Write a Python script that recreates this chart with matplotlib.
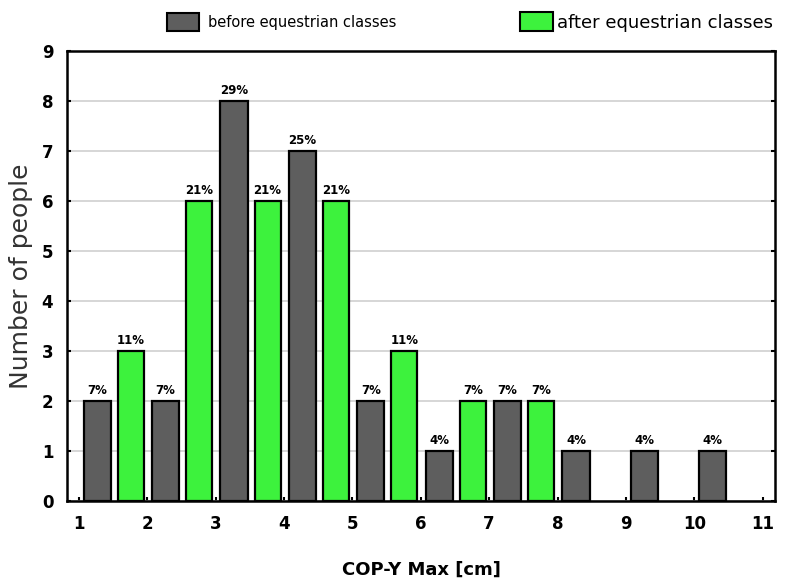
import matplotlib
matplotlib.use("Agg")
import matplotlib.pyplot as plt
from matplotlib.patches import Patch
import numpy as np

#%% Data
bins = [1, 2, 3, 4, 5, 6, 7, 8, 9, 10]
before_counts = [2, 2, 8, 7, 2, 1, 2, 1, 1, 1]
before_pct = ["7%", "7%", "29%", "25%", "7%", "4%", "7%", "4%", "4%", "4%"]
after_bins = [1, 2, 3, 4, 5, 6, 7]
after_counts = [3, 6, 6, 6, 3, 2, 2]
after_pct = ["11%", "21%", "21%", "21%", "11%", "7%", "7%"]

gray = "#5e5e5e"
green = "#3df23d"

#%% Plot
fig = plt.figure(figsize=(7.9, 5.82), dpi=100)
ax = fig.add_axes([0.085, 0.139, 0.896, 0.773])

bx = np.array(bins) + 0.27
gx = np.array(after_bins) + 0.76
ax.bar(bx, before_counts, width=0.4, color=gray, edgecolor="black", linewidth=1.6, zorder=3)
ax.bar(gx, after_counts, width=0.38, color=green, edgecolor="black", linewidth=1.6, zorder=3)

for x, h, t in zip(bx, before_counts, before_pct):
    ax.text(x, h + 0.08, t, ha="center", va="bottom", fontsize=8.5, fontweight="bold", zorder=4)
for x, h, t in zip(gx, after_counts, after_pct):
    ax.text(x, h + 0.08, t, ha="center", va="bottom", fontsize=8.5, fontweight="bold", zorder=4)

ax.set_xlim(0.83, 11.18)
ax.set_ylim(0, 9)
ax.set_xticks(range(1, 12))
ax.set_yticks(range(0, 10))
ax.yaxis.grid(True, color="#cfcfcf", linewidth=1.2, zorder=0)
ax.tick_params(labelsize=12, width=1.5, length=3, direction="in", pad=10, right=True)
for lbl in ax.get_xticklabels() + ax.get_yticklabels():
    lbl.set_fontweight("bold")
for sp in ax.spines.values():
    sp.set_linewidth(1.8)

ax.set_ylabel("Number of people", fontsize=18, color="#333333", labelpad=6)
ax.set_xlabel("COP-Y Max [cm]", fontsize=13, fontweight="bold", labelpad=20)

#%% Legend
fig.legend(handles=[Patch(facecolor=gray, edgecolor="black", linewidth=1.5)],
           labels=["before equestrian classes"], loc="center left",
           bbox_to_anchor=(0.195, 0.962), frameon=False, fontsize=10.5,
           handlelength=2.2, handleheight=1.6, handletextpad=0.6)
fig.legend(handles=[Patch(facecolor=green, edgecolor="black", linewidth=1.5)],
           labels=["after equestrian classes"], loc="center left",
           bbox_to_anchor=(0.638, 0.962), frameon=False, fontsize=13,
           handlelength=1.8, handleheight=1.2, handletextpad=0.25)

plt.savefig("out.png", dpi=100)
